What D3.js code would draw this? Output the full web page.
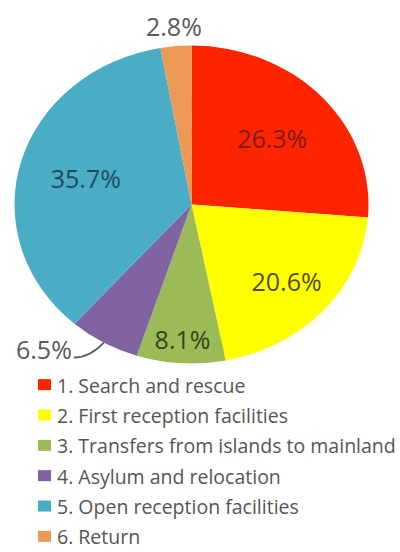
<!DOCTYPE html>
<html><head><meta charset="utf-8">
<script src="https://cdn.jsdelivr.net/npm/d3@7"></script>
<style>html,body{margin:0;padding:0;background:#fff;}svg{display:block;}</style>
</head><body>
<svg id="chart" width="400" height="552"></svg>
<script>
const categories = ["1. Search and rescue","2. First reception facilities","3. Transfers from islands to mainland","4. Asylum and relocation","5. Open reception facilities","6. Return"];
const values = [26.3, 20.6, 8.1, 6.5, 35.7, 2.8];
const labels = ["26.3%","20.6%","8.1%","6.5%","35.7%","2.8%"];
const colors = ["#ff2400","#ffff00","#9bbb59","#8064a2","#4bacc6","#eb9a55"];
const labelColors = ["#7a1c12","#4d4d06","#33431c","#5a5a5a","#1e4b62","#5a5a5a"];
const labelRadius = [0.62, 0.72, 0.85, 1.0, 0.62, 1.13];

const svg = d3.select("#chart");
const cx = 191.5, cy = 204.5, rx = 177, ry = 159;

const pie = d3.pie().sort(null).value(d => d)(values);
const arc = d3.arc().innerRadius(0).outerRadius(ry);

const g = svg.append("g").attr("transform", `translate(${cx},${cy}) scale(${rx/ry},1)`);
g.selectAll("path").data(pie).join("path")
  .attr("d", arc)
  .attr("fill", (d,i) => colors[i]);

function pos(d, k) {
  const a = (d.startAngle + d.endAngle) / 2;
  return [cx + rx * k * Math.sin(a), cy - ry * k * Math.cos(a)];
}

const font = "'Open Sans', sans-serif";
pie.forEach((d, i) => {
  const [x, y] = pos(d, labelRadius[i]);
  if (i === 3) {
    const ex = x - 30, ey = y + 15;
    svg.append("path")
      .attr("d", `M${x},${y} Q${x-14},${ey} ${ex},${ey}`)
      .attr("fill", "none").attr("stroke", "#5a5a5a").attr("stroke-width", 1.6);
    svg.append("text").attr("x", ex - 2).attr("y", ey - 9)
      .attr("text-anchor", "end").attr("dominant-baseline", "central")
      .attr("font-family", font).attr("font-size", 25).attr("fill", labelColors[i])
      .text(labels[i]);
  } else {
    svg.append("text").attr("x", x).attr("y", y)
      .attr("text-anchor", "middle").attr("dominant-baseline", "central")
      .attr("font-family", font).attr("font-size", 25).attr("fill", labelColors[i])
      .text(labels[i]);
  }
});

const ly = d3.scaleBand().domain(categories).range([370, 552]);
const lg = svg.append("g");
categories.forEach((c, i) => {
  const y = ly(c) + ly.bandwidth() / 2;
  lg.append("rect").attr("x", 38).attr("y", y - 6).attr("width", 13).attr("height", 11).attr("fill", colors[i]);
  lg.append("text").attr("x", 57).attr("y", y).attr("dominant-baseline", "central")
    .attr("font-family", font).attr("font-size", 19.5).attr("fill", "#555")
    .text(c);
});
</script>
</body></html>
